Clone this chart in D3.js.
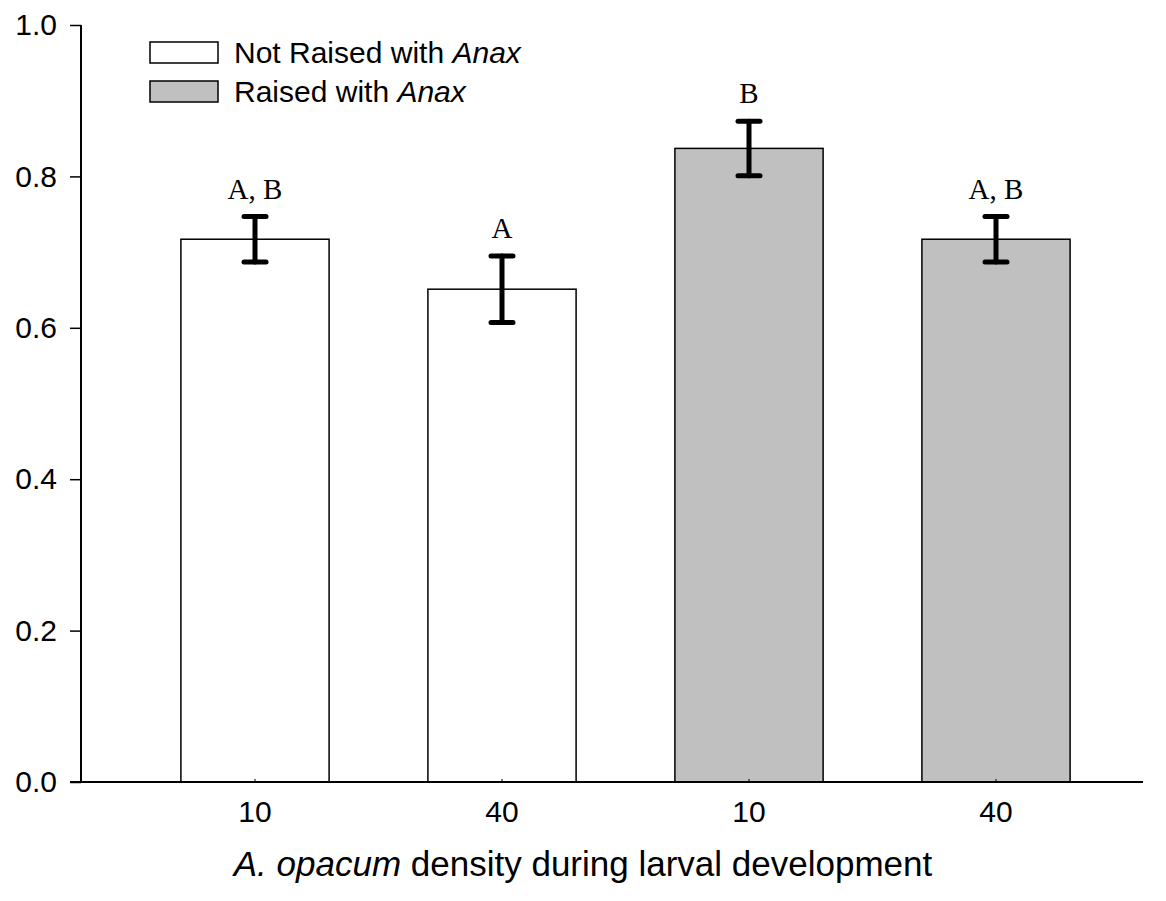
<!DOCTYPE html>
<html>
<head>
<meta charset="utf-8">
<script src="https://cdn.jsdelivr.net/npm/d3@7"></script>
<style>
  html, body { margin: 0; padding: 0; background: #fff; }
  svg { display: block; }
  .sans { font-family: "Liberation Sans", Arial, sans-serif; }
  .serif { font-family: "Liberation Serif", "Times New Roman", serif; }
</style>
</head>
<body>
<svg id="chart" width="1166" height="901"></svg>
<script>
// Proportion by larval density and predator treatment
const densities = ["10", "40", "10", "40"];
const groups = ["Not Raised with Anax", "Not Raised with Anax", "Raised with Anax", "Raised with Anax"];
const means = [0.717, 0.651, 0.837, 0.717];
const errors = [0.030, 0.044, 0.036, 0.030];
const letters = ["A, B", "A", "B", "A, B"];
const yTicks = [0.0, 0.2, 0.4, 0.6, 0.8, 1.0];
const legendLabels = [
  { plain: "Not Raised with ", italic: "Anax" },
  { plain: "Raised with ", italic: "Anax" }
];

const fills = { "Not Raised with Anax": "#ffffff", "Raised with Anax": "#c0c0c0" };

const svg = d3.select("#chart");
const axisX0 = 81, axisX1 = 1143, axisY = 782, axisTop = 25;

const y = d3.scaleLinear().domain([0, 1]).range([axisY, axisTop]);
const x = d3.scaleBand()
  .domain(d3.range(means.length))
  .range([131.5, 1119.5])
  .paddingInner(0.4)
  .paddingOuter(0.2);

// bars
svg.append("g").selectAll("rect")
  .data(means)
  .join("rect")
  .attr("x", (d, i) => x(i))
  .attr("y", d => y(d))
  .attr("width", x.bandwidth())
  .attr("height", d => y(0) - y(d))
  .attr("fill", (d, i) => fills[groups[i]])
  .attr("stroke", "#000")
  .attr("stroke-width", 1.5);

// error bars
const eb = svg.append("g")
  .attr("stroke", "#000")
  .attr("stroke-width", 5)
  .attr("stroke-linecap", "round");
means.forEach((m, i) => {
  const cx = x(i) + x.bandwidth() / 2;
  eb.append("line").attr("x1", cx).attr("x2", cx)
    .attr("y1", y(m + errors[i])).attr("y2", y(m - errors[i]));
  [m + errors[i], m - errors[i]].forEach(v => {
    eb.append("line").attr("x1", cx - 11).attr("x2", cx + 11)
      .attr("y1", y(v)).attr("y2", y(v));
  });
});

// significance letters
svg.append("g").selectAll("text")
  .data(letters)
  .join("text")
  .attr("class", "serif")
  .attr("x", (d, i) => x(i) + x.bandwidth() / 2)
  .attr("y", (d, i) => y(means[i] + errors[i]) - 18)
  .attr("text-anchor", "middle")
  .attr("font-size", 29)
  .text(d => d);

// y axis
const yAxis = d3.axisLeft(y)
  .tickValues(yTicks)
  .tickFormat(d3.format(".1f"))
  .tickSize(11)
  .tickPadding(13);
const gy = svg.append("g")
  .attr("transform", `translate(${axisX0},0)`)
  .call(yAxis);
gy.select(".domain").remove();
gy.append("line")
  .attr("x1", 0).attr("x2", 0)
  .attr("y1", axisTop).attr("y2", axisY)
  .attr("stroke", "#000").attr("stroke-width", 2);
gy.selectAll(".tick line").attr("stroke", "#000").attr("stroke-width", 1.5);
gy.selectAll(".tick text")
  .attr("class", "sans")
  .attr("font-size", 30)
  .attr("fill", "#000");
gy.attr("font-family", null);

// x axis
const xAxis = d3.axisBottom(x)
  .tickFormat(i => densities[i])
  .tickSize(-3)
  .tickPadding(19);
const gx = svg.append("g")
  .attr("transform", `translate(0,${axisY})`)
  .call(xAxis);
gx.select(".domain").remove();
gx.append("line")
  .attr("x1", axisX0 - 11).attr("x2", axisX1)
  .attr("y1", 0).attr("y2", 0)
  .attr("stroke", "#000").attr("stroke-width", 2);
gx.selectAll(".tick line").attr("stroke", "#000").attr("stroke-width", 1);
gx.selectAll(".tick text")
  .attr("class", "sans")
  .attr("font-size", 30)
  .attr("fill", "#000");
gx.attr("font-family", null);

// x axis title
const title = svg.append("text")
  .attr("class", "sans")
  .attr("x", 583)
  .attr("y", 876)
  .attr("text-anchor", "middle")
  .attr("font-size", 35);
title.append("tspan").attr("font-style", "italic").text("A. opacum");
title.append("tspan").text(" density during larval development");

// legend
const legend = svg.append("g");
legendLabels.forEach((l, i) => {
  const ly = 42 + i * 39;
  legend.append("rect")
    .attr("x", 150).attr("y", ly)
    .attr("width", 68).attr("height", 21)
    .attr("fill", i === 0 ? fills["Not Raised with Anax"] : fills["Raised with Anax"])
    .attr("stroke", "#000").attr("stroke-width", 1.5);
  const t = legend.append("text")
    .attr("class", "sans")
    .attr("x", 234).attr("y", ly + 21)
    .attr("font-size", 30);
  t.append("tspan").text(l.plain);
  t.append("tspan").attr("font-style", "italic").text(l.italic);
});
</script>
</body>
</html>
